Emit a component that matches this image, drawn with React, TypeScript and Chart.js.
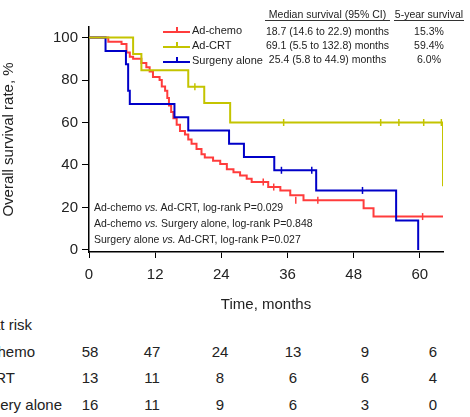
import { useEffect, useRef } from "react";
import { Chart, registerables } from "chart.js";

Chart.register(...registerables);

// survival steps: [month, survival %] (value after the drop)
const chemoSteps: number[][] = [
  [0, 100], [3.5, 98], [5.9, 97], [6.8, 93], [7.4, 91], [8.0, 90], [9.5, 88], [10.4, 86],
  [11.0, 84], [11.6, 81.5], [12.8, 80], [13.2, 77], [13.8, 75], [14.2, 71.5], [14.5, 68],
  [14.9, 65], [15.3, 62], [15.9, 59], [16.5, 56], [17.4, 54.4], [18.0, 52], [18.6, 50],
  [19.5, 47.5], [20.4, 45], [21.0, 43.5], [22.5, 42], [23.8, 40.5], [25.0, 38], [26.2, 36.6],
  [27.4, 35], [28.6, 33.5], [29.5, 32], [32.5, 29.6], [34.7, 28], [36.5, 25.7], [38.9, 23.4],
  [49.8, 19.6], [51.6, 15.7], [64.2, 15.7],
];
const chemoCensor: number[][] = [[31.6, 32], [33.5, 29.6], [37.5, 23.4], [41.5, 23.4], [60.5, 15.7]];

const crtSteps: number[][] = [
  [0, 100], [8.0, 92.3], [9.5, 84.6], [18.0, 76.9], [20.9, 69.2], [25.6, 60], [64.2, 60], [64.2, 30],
];
const crtCensor: number[][] = [[19.2, 76.9], [35.3, 60], [52.9, 60], [56.2, 60], [60.7, 60], [63.9, 60]];

const surgSteps: number[][] = [
  [0, 100], [3.0, 93.75], [6.7, 87.5], [7.1, 75], [7.4, 68.75], [15.5, 62.5], [18.0, 56.25],
  [25.4, 50], [28.1, 43.75], [33.6, 37.5], [41.2, 28], [55.7, 13.8], [59.7, 0],
];
const surgCensor: number[][] = [[34.9, 37.5], [40.4, 37.5], [49.6, 28]];

const xTicks = [0, 12, 24, 36, 48, 60];
const yTicks = [0, 20, 40, 60, 80, 100];

const groups = ["Ad-chemo", "Ad-CRT", "Surgeny alone"];
const colors = ["#ff3c3c", "#c4c400", "#0000c8"];
const medians = [
  "18.7 (14.6 to 22.9) months",
  "69.1 (5.5 to 132.8) months",
  "25.4 (5.8 to 44.9) months",
];
const fiveYear = ["15.3%", "59.4%", "6.0%"];
const pValues = [
  ["Ad-chemo ", "vs.", " Ad-CRT, log-rank P=0.029"],
  ["Ad-chemo ", "vs.", " Surgery alone, log-rank P=0.848"],
  ["Surgery alone ", "vs.", " Ad-CRT, log-rank P=0.027"],
];
const riskLabels = ["Ad-chemo", "Ad-CRT", "Surgery alone"];
const riskCounts = [
  [58, 47, 24, 13, 9, 6],
  [13, 11, 8, 6, 6, 4],
  [16, 11, 9, 6, 3, 0],
];

const font = "'Liberation Sans', Arial, sans-serif";
const toPts = (a: number[][]) => a.map(([x, y]) => ({ x, y }));

export default function App() {
  const ref = useRef<HTMLCanvasElement | null>(null);

  useEffect(() => {
    if (!ref.current) return;
    const line = (pts: number[][], c: string) => ({
      data: toPts(pts), borderColor: c, borderWidth: 2, stepped: true as const, pointRadius: 0, fill: false,
    });
    const cens = (pts: number[][], c: string) => ({
      data: toPts(pts), borderColor: c, borderWidth: 1.5, showLine: false,
      pointStyle: "line" as const, rotation: 90, pointRadius: 3.5,
    });
    const chart = new Chart(ref.current, {
      type: "line",
      data: {
        datasets: [
          line(crtSteps, colors[1]), cens(crtCensor, colors[1]),
          line(surgSteps, colors[2]), cens(surgCensor, colors[2]),
          line(chemoSteps, colors[0]), cens(chemoCensor, colors[0]),
        ] as any,
      },
      options: {
        animation: false,
        responsive: false,
        layout: { padding: { top: 27, right: 27, left: 0, bottom: 0 } },
        plugins: { legend: { display: false }, tooltip: { enabled: false } },
        scales: {
          x: {
            type: "linear", min: 0, max: 64.2,
            afterBuildTicks: (s: any) => { s.ticks = xTicks.map((v) => ({ value: v })); },
            afterFit: (s: any) => { s.height = 62; },
            grid: { drawOnChartArea: false, tickLength: 6, color: "#000" },
            border: { color: "#000", width: 1.5 },
            ticks: { color: "#222", font: { family: font, size: 15 }, padding: 8 },
            title: { display: true, text: "Time, months", color: "#222", font: { family: font, size: 15 }, padding: 0 },
          },
          y: {
            min: -1, max: 105,
            afterBuildTicks: (s: any) => { s.ticks = yTicks.map((v) => ({ value: v })); },
            afterFit: (s: any) => { s.width = 89; },
            grid: { drawOnChartArea: false, tickLength: 7, color: "#000" },
            border: { color: "#000", width: 1.5 },
            ticks: { color: "#222", font: { family: font, size: 15 }, padding: 4 },
            title: { display: true, text: "Overall survival rate, %", color: "#222", font: { family: font, size: 15 }, padding: 0 },
          },
        },
      },
    });
    return () => chart.destroy();
  }, []);

  const colX = [90, 152, 220, 293, 365, 433];
  const rowY = [352, 378, 405];
  const labelRight = [35, 15, 62];

  return (
    <div style={{ position: "fixed", left: 0, top: 0, width: 470, height: 417, background: "#fff", overflow: "hidden", fontFamily: font, color: "#222" }}>
      <canvas ref={ref} width={470} height={314} style={{ position: "absolute", left: 0, top: 0 }} />
      {groups.map((g, i) => (
        <div key={g} style={{ position: "absolute", left: 163, top: 24 + i * 15, height: 14, fontSize: 11, whiteSpace: "nowrap" }}>
          <div style={{ position: "absolute", left: 0, top: 7, width: 27, height: 2, background: colors[i] }} />
          <div style={{ position: "absolute", left: 13, top: 3, width: 1.5, height: 5, background: colors[i] }} />
          <span style={{ position: "absolute", left: 29, top: 0 }}>{g}</span>
        </div>
      ))}
      <div style={{ position: "absolute", left: 265, top: 8, width: 125, fontSize: 10.5, textAlign: "center", borderBottom: "1px solid #333", whiteSpace: "nowrap" }}>Median survival (95% CI)</div>
      <div style={{ position: "absolute", left: 394, top: 8, width: 70, fontSize: 10.5, textAlign: "center", borderBottom: "1px solid #333", whiteSpace: "nowrap" }}>5-year survival</div>
      {medians.map((m, i) => (
        <div key={m}>
          <div style={{ position: "absolute", left: 260, top: 25 + i * 14, width: 135, fontSize: 10.5, textAlign: "center", whiteSpace: "nowrap" }}>{m}</div>
          <div style={{ position: "absolute", left: 394, top: 25 + i * 14, width: 70, fontSize: 10.5, textAlign: "center" }}>{fiveYear[i]}</div>
        </div>
      ))}
      {pValues.map((p, i) => (
        <div key={i} style={{ position: "absolute", left: 94, top: 201 + i * 16, fontSize: 10.5, whiteSpace: "nowrap" }}>
          {p[0]}<i>{p[1]}</i>{p[2]}
        </div>
      ))}
      <div style={{ position: "absolute", right: 470 - 32, top: 316, fontSize: 15, whiteSpace: "nowrap" }}>No. at risk</div>
      {riskLabels.map((l, i) => (
        <div key={l} style={{ position: "absolute", right: 470 - labelRight[i], top: rowY[i] - 9, fontSize: 15, whiteSpace: "nowrap" }}>{l}</div>
      ))}
      {riskCounts.map((row, i) =>
        row.map((v, j) => (
          <div key={i + "-" + j} style={{ position: "absolute", left: colX[j] - 20, width: 40, top: rowY[i] - 9, fontSize: 15, textAlign: "center" }}>{v}</div>
        ))
      )}
    </div>
  );
}
